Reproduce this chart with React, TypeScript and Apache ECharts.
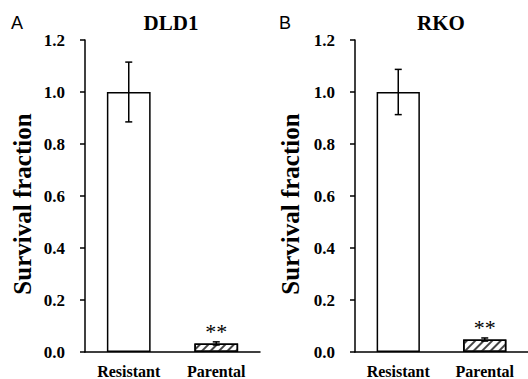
import React, { useEffect, useRef } from "react";
import * as echarts from "echarts";

const categories = ["Resistant", "Parental"];
const dldMeans = [1.0, 0.033];
const dldErrors = [0.115, 0.006];
const rkoMeans = [1.0, 0.048];
const rkoErrors = [0.087, 0.006];
const starLabels = ["", "**"];
const panelTitles = ["DLD1", "RKO"];
const panelLetters = ["A", "B"];
const yAxisName = "Survival fraction";
const yMin = 0;
const yMax = 1.2;
const yInterval = 0.2;

const SERIF = "Liberation Serif";
const SANS = "Liberation Sans";

const grids = [
  { left: 85, top: 40, width: 175, height: 313 },
  { left: 355, top: 40, width: 176, height: 313 },
];

function barSeries(idx: number, means: number[]) {
  return {
    type: "bar",
    xAxisIndex: idx,
    yAxisIndex: idx,
    barWidth: "50%",
    silent: true,
    data: means.map((v, i) => ({
      value: v,
      itemStyle:
        i === 1
          ? {
              color: "#fff",
              borderColor: "#000",
              borderWidth: 1.5,
              decal: {
                symbol: "rect",
                symbolSize: 1,
                dashArrayX: [1, 0],
                dashArrayY: [1.5, 3.5],
                rotation: -Math.PI / 4,
                color: "#444",
              },
            }
          : { color: "#fff", borderColor: "#000", borderWidth: 1.5 },
      label: {
        show: starLabels[i] !== "",
        position: "top",
        distance: 1,
        formatter: starLabels[i],
        fontFamily: SERIF,
        fontSize: 22,
        color: "#000",
      },
    })),
  };
}

function errorSeries(idx: number, means: number[], errs: number[]) {
  return {
    type: "custom",
    xAxisIndex: idx,
    yAxisIndex: idx,
    silent: true,
    z: 5,
    data: means.map((m, i) => [i, m - errs[i], m + errs[i]]),
    encode: { x: 0, y: [1, 2] },
    renderItem: (params: any, api: any) => {
      const x = api.value(0);
      const lo = api.coord([x, api.value(1)]);
      const hi = api.coord([x, api.value(2)]);
      const half = 3.5;
      const style = { stroke: "#000", lineWidth: 1.5 };
      return {
        type: "group",
        children: [
          { type: "line", shape: { x1: lo[0], y1: lo[1], x2: hi[0], y2: hi[1] }, style },
          { type: "line", shape: { x1: hi[0] - half, y1: hi[1], x2: hi[0] + half, y2: hi[1] }, style },
          { type: "line", shape: { x1: lo[0] - half, y1: lo[1], x2: lo[0] + half, y2: lo[1] }, style },
        ],
      };
    },
  };
}

export default function App() {
  const ref = useRef<HTMLDivElement>(null);
  useEffect(() => {
    if (!ref.current) return;
    const chart = echarts.init(ref.current, null, { renderer: "svg" });
    const xAxes = grids.map((_, i) => ({
      type: "category",
      gridIndex: i,
      data: categories,
      axisLine: { show: true, lineStyle: { color: "#000", width: 1.5 } },
      axisTick: { show: false },
      axisLabel: {
        color: "#000",
        fontFamily: SERIF,
        fontWeight: "bold",
        fontSize: 16,
        margin: 11,
      },
    }));
    const yAxes = grids.map((_, i) => ({
      type: "value",
      gridIndex: i,
      min: yMin,
      max: yMax,
      interval: yInterval,
      axisLine: { show: true, lineStyle: { color: "#000", width: 1.5 } },
      axisTick: { show: true, length: 5, lineStyle: { color: "#000", width: 1.5 } },
      splitLine: { show: false },
      axisLabel: {
        color: "#000",
        fontFamily: SERIF,
        fontWeight: "bold",
        fontSize: 17,
        margin: 20,
        formatter: (v: number) => v.toFixed(1),
      },
    }));
    const graphics: any[] = [];
    panelLetters.forEach((t, i) => {
      graphics.push({
        type: "text",
        x: i === 0 ? 11 : 279,
        y: 23,
        style: {
          text: t,
          fontFamily: SANS,
          fontSize: 18,
          fill: "#000",
          textVerticalAlign: "middle",
        },
      });
    });
    panelTitles.forEach((t, i) => {
      graphics.push({
        type: "text",
        x: i === 0 ? 171 : 441,
        y: 23,
        style: {
          text: t,
          fontFamily: SERIF,
          fontWeight: "bold",
          fontSize: 21,
          fill: "#000",
          textAlign: "center",
          textVerticalAlign: "middle",
        },
      });
    });
    [22, 290].forEach((x) => {
      graphics.push({
        type: "text",
        x,
        y: 204,
        rotation: Math.PI / 2,
        style: {
          text: yAxisName,
          fontFamily: SERIF,
          fontWeight: "bold",
          fontSize: 25,
          fill: "#000",
          textAlign: "center",
          textVerticalAlign: "middle",
        },
      });
    });
    chart.setOption({
      animation: false,
      backgroundColor: "#fff",
      textStyle: { fontFamily: SERIF },
      grid: grids.map((g) => ({ ...g, containLabel: false })),
      xAxis: xAxes,
      yAxis: yAxes,
      graphic: graphics,
      series: [
        barSeries(0, dldMeans),
        errorSeries(0, dldMeans, dldErrors),
        barSeries(1, rkoMeans),
        errorSeries(1, rkoMeans, rkoErrors),
      ],
    });
    return () => chart.dispose();
  }, []);
  return (
    <div
      ref={ref}
      style={{ position: "fixed", left: 0, top: 0, width: 528, height: 379 }}
    />
  );
}
